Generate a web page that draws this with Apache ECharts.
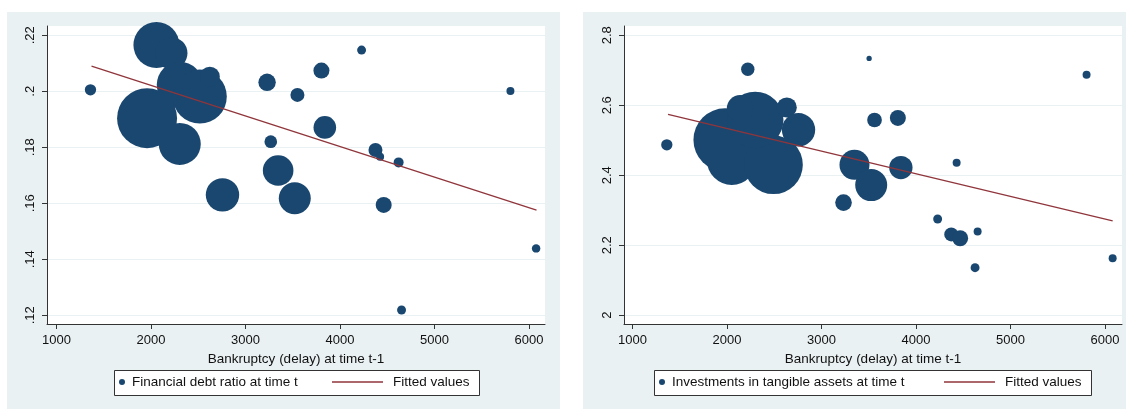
<!DOCTYPE html>
<html>
<head>
<meta charset="utf-8">
<script src="https://cdn.jsdelivr.net/npm/echarts@6/dist/echarts.min.js"></script>
<style>
body{margin:0;background:#fff;width:1126px;height:409px;position:relative;overflow:hidden}
.panel{position:absolute;top:12px;height:397px;background:#eaf1f3}
#left{left:7px;width:553px}
#right{left:583px;width:543px}
</style>
</head>
<body>
<div id="left" class="panel"></div>
<div id="right" class="panel"></div>
<script>
// shared x axis
var xTicks=[1000,2000,3000,4000,5000,6000]
var xTickLabels=['1000','2000','3000','4000','5000','6000']
var xTitle='Bankruptcy (delay) at time t-1'

// left: financial debt ratio
var debtTicks=[.12,.14,.16,.18,.2,.22]
var debtTickLabels=['.12','.14','.16','.18','.2','.22']
var debtX=[1360,2058,2217,2305,2517,2623,1959,2305,2757,3229,3550,3804,3840,3268,3346,3522,4229,5804,4376,4425,4621,4463,6076,4652]
var debtY=[.2005,.2165,.2136,.2023,.1981,.2052,.1904,.1812,.163,.2032,.1987,.2074,.1871,.182,.1717,.1618,.2147,.2001,.179,.1766,.1746,.1594,.1439,.1219]
var debtW=[32,529,256,529,729,100,900,441,279,76,49,64,128,40,234,256,20,16,49,16,25,64,18,20]
var debtFitX=[1371,6080]
var debtFitY=[.209,.1576]

// right: investments in tangible assets
var invTicks=[2,2.2,2.4,2.6,2.8]
var invTickLabels=['2','2.2','2.4','2.6','2.8']
var invX=[1363,2220,1980,2051,2492,2298,2139,2633,2757,3504,3561,3808,3349,3526,3840,3233,4430,5805,4229,4373,4467,4652,4625,6081]
var invY=[2.487,2.703,2.501,2.444,2.430,2.558,2.591,2.594,2.530,2.734,2.558,2.564,2.430,2.372,2.422,2.322,2.436,2.687,2.275,2.231,2.220,2.239,2.136,2.163]
var invW=[32,45,1003,625,860,800,178,100,278,7,54,64,225,256,136,69,16,16,20,49,64,16,20,16]
var invFitX=[1376,6081]
var invFitY=[2.574,2.270]

var FONT='"Liberation Sans", Arial, sans-serif'
var NAVY='#1a476f'
var MAROON='#90353b'

function zip3(a,b,c){
  var out=[]
  for(var i=0;i<a.length;i++){ out.push([a[i],b[i],c[i]]) }
  return out
}
function zip2(a,b){
  var out=[]
  for(var i=0;i<a.length;i++){ out.push([a[i],b[i]]) }
  return out
}
function labelOf(ticks,labels){
  return function(v){
    for(var i=0;i<ticks.length;i++){ if(Math.abs(ticks[i]-v)<1e-9) return labels[i] }
    return ''
  }
}

function panel(el,cfg){
  var chart=echarts.init(el,null,{renderer:'canvas'})
  chart.setOption({
    animation:false,
    textStyle:{fontFamily:FONT},
    grid:{left:cfg.gridLeft,top:14,width:498,height:298,show:true,backgroundColor:'#fff',borderWidth:0},
    xAxis:{
      type:'value',min:cfg.xMin,max:cfg.xMax,
      axisLine:{onZero:false,lineStyle:{color:'#333',width:1}},
      axisTick:{customValues:xTicks,length:5,lineStyle:{color:'#333'}},
      axisLabel:{customValues:xTicks,margin:10,fontSize:13,color:'#111',fontFamily:FONT,
        formatter:labelOf(xTicks,xTickLabels)},
      splitLine:{show:false},
      name:xTitle,nameLocation:'middle',nameGap:23,
      nameTextStyle:{fontSize:13.5,color:'#111',fontFamily:FONT}
    },
    yAxis:{
      type:'value',min:cfg.yMin,max:cfg.yMax,
      axisLine:{show:true,onZero:false,lineStyle:{color:'#333',width:1}},
      axisTick:{show:true,customValues:cfg.yTicks,length:5,lineStyle:{color:'#333'}},
      axisLabel:{customValues:cfg.yTicks,rotate:90,margin:10,fontSize:13,color:'#111',fontFamily:FONT,
        formatter:labelOf(cfg.yTicks,cfg.yLabels)},
      splitLine:{show:true,lineStyle:{color:'#eaf1f3',width:1}}
    },
    legend:[
      {data:[{name:cfg.name,icon:'circle'}],left:cfg.leg1,top:363,itemWidth:10,itemHeight:6,padding:0,
        selectedMode:false,textStyle:{fontSize:13.5,color:'#111',fontFamily:FONT}},
      {data:[{name:'Fitted values',icon:'rect'}],left:cfg.leg2,top:363,itemWidth:51,itemHeight:1.4,padding:0,
        selectedMode:false,textStyle:{fontSize:13.5,color:'#111',fontFamily:FONT,padding:[0,0,0,5]}}
    ],
    graphic:[
      {type:'rect',shape:{x:cfg.boxX+0.5,y:358.5,width:cfg.boxW,height:25},
        style:{fill:'#fff',stroke:'#333',lineWidth:1},z:1}
    ],
    series:[
      {type:'scatter',name:cfg.name,data:zip3(cfg.x,cfg.y,cfg.w),
        symbolSize:function(d){return 2*Math.sqrt(d[2])},
        itemStyle:{color:NAVY,opacity:1},emphasis:{disabled:true},z:2},
      {type:'line',name:'Fitted values',data:zip2(cfg.fitX,cfg.fitY),symbol:'none',
        lineStyle:{color:MAROON,width:1.3},itemStyle:{color:MAROON},emphasis:{disabled:true},z:3}
    ]
  })
  return chart
}

panel(document.getElementById('left'),{
  gridLeft:40,xMin:900,xMax:6170,yMin:.1169,yMax:.2233,
  yTicks:debtTicks,yLabels:debtTickLabels,
  x:debtX,y:debtY,w:debtW,fitX:debtFitX,fitY:debtFitY,
  name:'Financial debt ratio at time t',
  leg1:112,leg2:325,boxX:107,boxW:365
})
panel(document.getElementById('right'),{
  gridLeft:41,xMin:910,xMax:6180,yMin:1.975,yMax:2.8266,
  yTicks:invTicks,yLabels:invTickLabels,
  x:invX,y:invY,w:invW,fitX:invFitX,fitY:invFitY,
  name:'Investments in tangible assets at time t',
  leg1:76,leg2:361,boxX:71,boxW:437
})
</script>
</body>
</html>
